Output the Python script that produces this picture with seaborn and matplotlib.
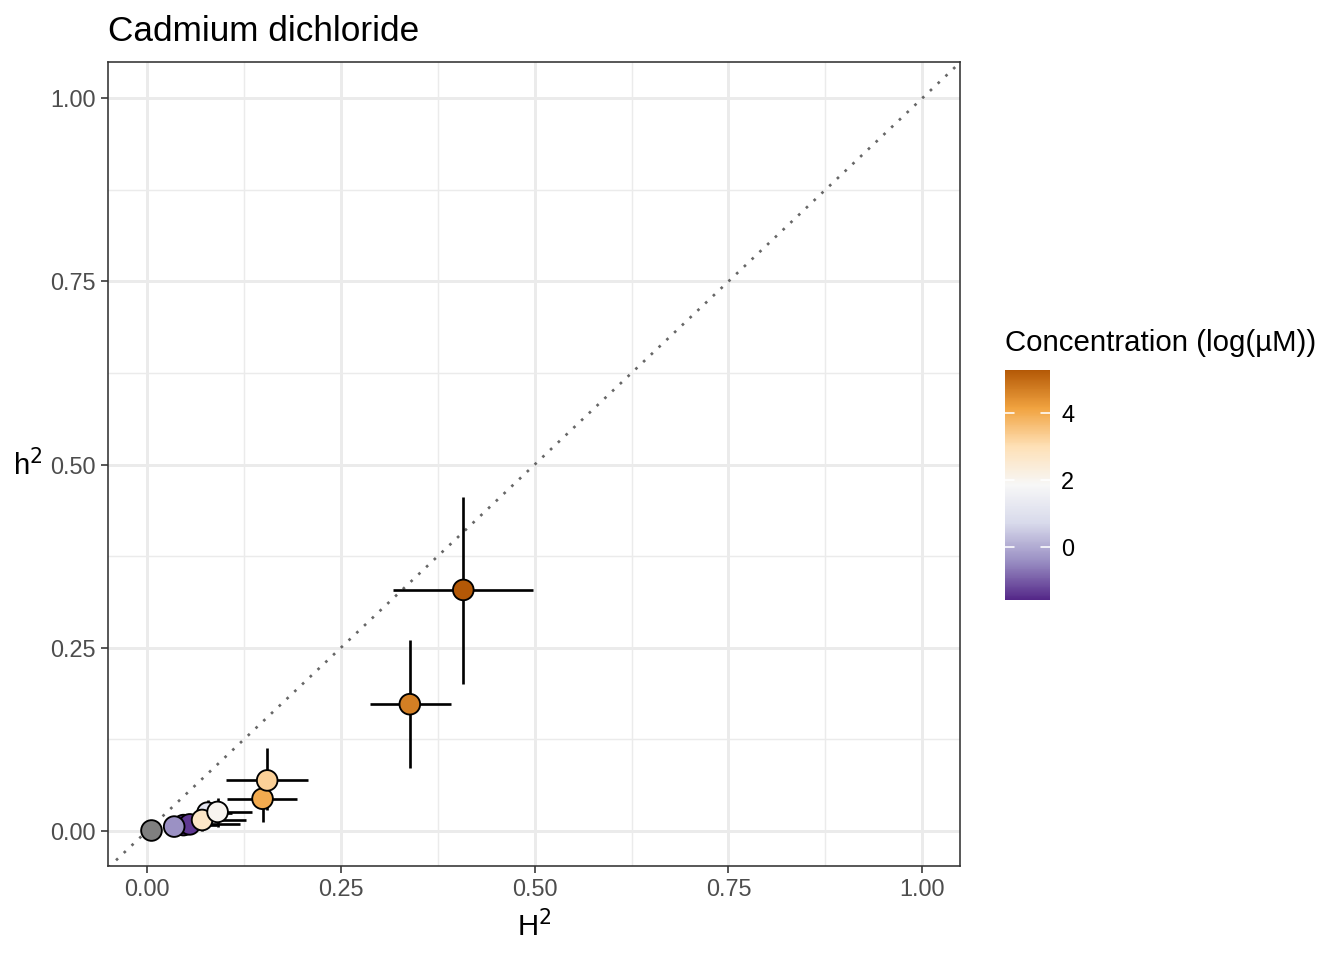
import numpy as np
import pandas as pd
import matplotlib
matplotlib.use("Agg")
import matplotlib.pyplot as plt
import seaborn as sns

# values (drawing order as in the reference)
conc = [np.nan, -1.6, -1.4, -0.4, 1.1, 2.7, 2.0, 4.0, 3.3, 4.7, 5.3]
H2 = [0.005, 0.047, 0.055, 0.035, 0.078, 0.071, 0.091, 0.149, 0.155, 0.339, 0.408]
h2 = [0.001, 0.008, 0.009, 0.006, 0.025, 0.015, 0.026, 0.044, 0.069, 0.173, 0.329]
H2_lo = [0.003, 0.028, 0.035, 0.022, 0.060, 0.045, 0.075, 0.103, 0.102, 0.288, 0.317]
H2_hi = [0.007, 0.090, 0.120, 0.048, 0.110, 0.128, 0.135, 0.194, 0.208, 0.392, 0.498]
h2_lo = [0.000, 0.000, 0.000, 0.000, 0.010, 0.000, 0.005, 0.012, 0.029, 0.086, 0.200]
h2_hi = [0.002, 0.020, 0.020, 0.014, 0.042, 0.030, 0.045, 0.070, 0.113, 0.261, 0.456]

df = pd.DataFrame({"conc": conc, "H2": H2, "h2": h2,
                   "H2_lo": H2_lo, "H2_hi": H2_hi, "h2_lo": h2_lo, "h2_hi": h2_hi})

sns.set_style("white")
plt.rcParams["font.family"] = ["Liberation Sans", "DejaVu Sans"]
plt.rcParams["text.color"] = "black"
plt.rcParams["axes.labelcolor"] = "black"

fig = plt.figure(figsize=(7, 5), dpi=192)
ax = fig.add_axes([0.0804, 0.098, 0.634, 0.837])

# brewer PuOr (7 classes), purple for low values
puor = ["#542788", "#998ec3", "#d8daeb", "#f7f7f7", "#fee0b6", "#f1a340", "#b35806"]
cmap = matplotlib.colors.LinearSegmentedColormap.from_list("puor", puor)
norm = matplotlib.colors.Normalize(vmin=-1.6, vmax=5.3)

# grid
major = [0, 0.25, 0.5, 0.75, 1.0]
minor = [0.125, 0.375, 0.625, 0.875]
for v in minor:
    ax.axvline(v, color="#EBEBEB", lw=0.55, zorder=0)
    ax.axhline(v, color="#EBEBEB", lw=0.55, zorder=0)
for v in major:
    ax.axvline(v, color="#EBEBEB", lw=1.1, zorder=0)
    ax.axhline(v, color="#EBEBEB", lw=1.1, zorder=0)

ax.plot([-0.1, 1.1], [-0.1, 1.1], color="#666666", lw=1.0, ls=(0, (1, 3)), zorder=1)

# error bars
ax.hlines(df["h2"], df["H2_lo"], df["H2_hi"], color="black", lw=1.0, zorder=2)
ax.vlines(df["H2"], df["h2_lo"], df["h2_hi"], color="black", lw=1.0, zorder=2)

na = df[df["conc"].isna()]
ok = df[df["conc"].notna()]
sns.scatterplot(data=na, x="H2", y="h2", color="#7F7F7F", edgecolor="black",
                linewidth=0.7, s=60, ax=ax, zorder=3, legend=False)
sns.scatterplot(data=ok, x="H2", y="h2", hue="conc", palette=cmap, hue_norm=norm,
                edgecolor="black", linewidth=0.7, s=60, ax=ax, zorder=3, legend=False)

ax.set_xlim(-0.0503, 1.049)
ax.set_ylim(-0.0477, 1.049)
ax.set_xticks(major)
ax.set_yticks(major)
ax.set_xticklabels(["0.00", "0.25", "0.50", "0.75", "1.00"])
ax.set_yticklabels(["0.00", "0.25", "0.50", "0.75", "1.00"])
ax.tick_params(axis="both", labelsize=8.8, labelcolor="#4D4D4D", color="#333333",
               length=2.7, width=0.6, direction="out", pad=2, bottom=True, left=True)
for s in ax.spines.values():
    s.set_color("#333333")
    s.set_linewidth(0.6)

ax.set_xlabel("H$^2$", fontsize=11, labelpad=3)
ax.set_ylabel("h$^2$", fontsize=11, rotation=0, va="center", ha="center")
ax.yaxis.set_label_coords(-0.094, 0.5)
ax.set_title("Cadmium dichloride", fontsize=13.2, loc="left", pad=8)

# colour bar
cax = fig.add_axes([0.748, 0.375, 0.0335, 0.240])
sm = matplotlib.cm.ScalarMappable(norm=norm, cmap=cmap)
cb = fig.colorbar(sm, cax=cax, ticks=[0, 2, 4])
cb.outline.set_visible(False)
cax.tick_params(labelsize=8.8, labelcolor="black", length=0, pad=4)
for t in [0, 2, 4]:
    cax.plot([0, 0.2], [t, t], color="white", lw=0.6, transform=cax.get_yaxis_transform())
    cax.plot([0.8, 1.0], [t, t], color="white", lw=0.6, transform=cax.get_yaxis_transform())
fig.text(0.748, 0.643, "Concentration (log(\u00b5M))", fontsize=11, ha="left", va="center")

fig.savefig("out.png", dpi=192)
